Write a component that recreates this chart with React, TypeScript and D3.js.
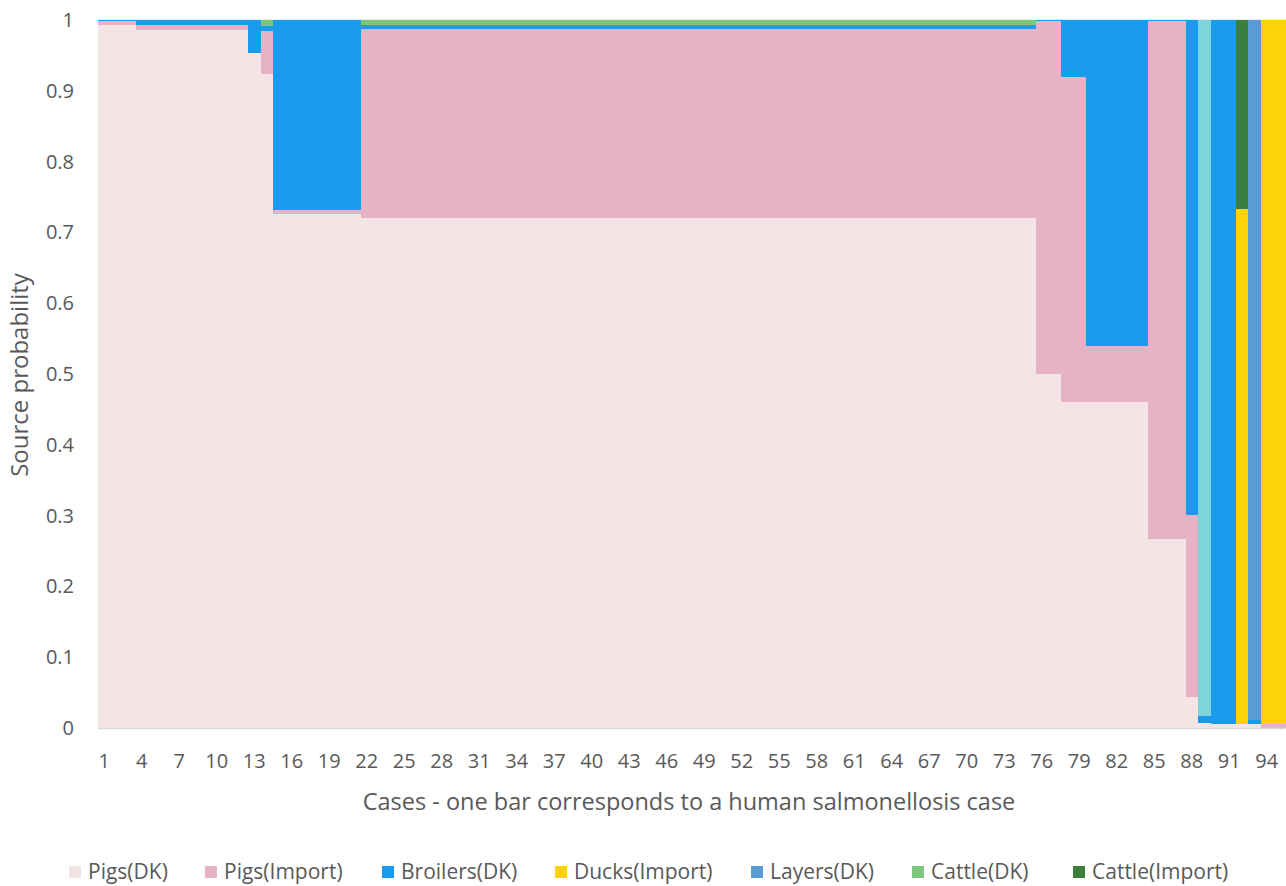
import React from "react";
import * as d3 from "d3";

// ---- data ----
// Runs of consecutive cases that share the same source probabilities
const runLengths = [3, 9, 1, 1, 7, 54, 2, 2, 5, 3, 1, 1, 2, 1, 1, 2];

const pigsDK = [0.993, 0.986, 0.953, 0.924, 0.726, 0.721, 0.5, 0.46, 0.46, 0.267, 0.044, 0.0075, 0.006, 0.006, 0.005, 0];
const pigsImport = [0.006, 0.007, 0, 0.06, 0.006, 0.266, 0.498, 0.46, 0.08, 0.731, 0.257, 0, 0, 0, 0, 0.006];
const broilersDK = [0.001, 0.007, 0.047, 0.008, 0.268, 0.006, 0.002, 0.08, 0.46, 0.002, 0.699, 0.0095, 0.994, 0, 0.006, 0];
const ducksImport = [0, 0, 0, 0, 0, 0, 0, 0, 0, 0, 0, 0, 0, 0.727, 0, 0.994];
const layersDK = [0, 0, 0, 0, 0, 0, 0, 0, 0, 0, 0, 0, 0, 0, 0.989, 0];
const cattleDK = [0, 0, 0, 0.008, 0, 0.007, 0, 0, 0, 0, 0, 0, 0, 0, 0, 0];
const cattleImport = [0, 0, 0, 0, 0, 0, 0, 0, 0, 0, 0, 0, 0, 0.267, 0, 0];
const otherSource = [0, 0, 0, 0, 0, 0, 0, 0, 0, 0, 0, 0.983, 0, 0, 0, 0];

const seriesNames = ["Pigs(DK)", "Pigs(Import)", "Broilers(DK)", "Ducks(Import)", "Layers(DK)", "Cattle(DK)", "Cattle(Import)", "Other"];
const seriesColors = ["#F5E4E5", "#E6B3C6", "#199CEC", "#FDD208", "#5B9BD5", "#7DC67D", "#3C7F3C", "#7DD4DC"];
const legendNames = ["Pigs(DK)", "Pigs(Import)", "Broilers(DK)", "Ducks(Import)", "Layers(DK)", "Cattle(DK)", "Cattle(Import)"];
const yTicks = [0, 0.1, 0.2, 0.3, 0.4, 0.5, 0.6, 0.7, 0.8, 0.9, 1];

// ---- layout ----
const W = 1286;
const H = 886;
const M = { left: 98, right: 1285.5, top: 20, bottom: 728 };
const legendX = [69, 205, 382, 555, 751, 912, 1073];
const FONT = "'Open Sans', 'DejaVu Sans', sans-serif";
const TEXT = "#595959";

const groupSeries = [pigsDK, pigsImport, broilersDK, ducksImport, layersDK, cattleDK, cattleImport, otherSource];

// expand runs into one row per case
type Row = { case: number; [k: string]: number };
const rows: Row[] = [];
runLengths.forEach((n, g) => {
  for (let i = 0; i < n; i++) {
    const r: Row = { case: rows.length + 1 };
    seriesNames.forEach((s, si) => (r[s] = groupSeries[si][g]));
    rows.push(r);
  }
});

export default function App() {
  const x = d3
    .scaleBand<number>()
    .domain(rows.map((r) => r.case))
    .range([M.left, M.right])
    .padding(0);
  const y = d3.scaleLinear().domain([0, 1]).range([M.bottom, M.top]);
  const stacked = d3.stack<Row>().keys(seriesNames)(rows);
  const xTicks = rows.map((r) => r.case).filter((c) => (c - 1) % 3 === 0);

  return (
    <svg width={W} height={H} style={{ position: "absolute", left: 0, top: 0, background: "#fff" }} fontFamily={FONT}>
      {/* gridlines */}
      {yTicks.map((t) => (
        <line key={"g" + t} x1={M.left} x2={M.right} y1={y(t)} y2={y(t)} stroke="#D9D9D9" strokeWidth={1} />
      ))}
      {stacked.map((layer, li) => (
        <g key={layer.key} fill={seriesColors[li]}>
          {layer.map((d, i) => {
            const h = y(d[0]) - y(d[1]);
            if (h <= 0) return null;
            return (
              <rect
                key={i}
                x={x(d.data.case)!}
                width={x.bandwidth() + 0.3}
                y={y(d[1])}
                height={h}
                shapeRendering="crispEdges"
              />
            );
          })}
        </g>
      ))}
      {/* axis line */}
      <line x1={M.left} x2={M.right} y1={M.bottom + 0.5} y2={M.bottom + 0.5} stroke="#D9D9D9" strokeWidth={1.5} />
      {/* y ticks */}
      {yTicks.map((t) => (
        <text key={"y" + t} x={74} y={y(t)} dy="0.35em" textAnchor="end" fontSize={20} fill={TEXT}>
          {d3.format("~g")(t)}
        </text>
      ))}
      {/* x ticks */}
      {xTicks.map((c) => (
        <text key={"x" + c} x={x(c)! + x.bandwidth() / 2} y={768} textAnchor="middle" fontSize={20} fill={TEXT}>
          {c}
        </text>
      ))}
      <text x={689} y={810} textAnchor="middle" fontSize={23.5} fill={TEXT}>
        Cases - one bar corresponds to a human salmonellosis case
      </text>
      <text transform={`translate(28,${375}) rotate(-90)`} textAnchor="middle" fontSize={24} fill={TEXT}>
        Source probability
      </text>
      {/* legend */}
      {legendNames.map((n, i) => (
        <g key={n} transform={`translate(${legendX[i]},872)`}>
          <rect x={0} y={-6} width={12} height={12} fill={seriesColors[i]} />
          <text x={19} y={0} dy="0.35em" fontSize={21} fill={TEXT}>
            {n}
          </text>
        </g>
      ))}
    </svg>
  );
}
